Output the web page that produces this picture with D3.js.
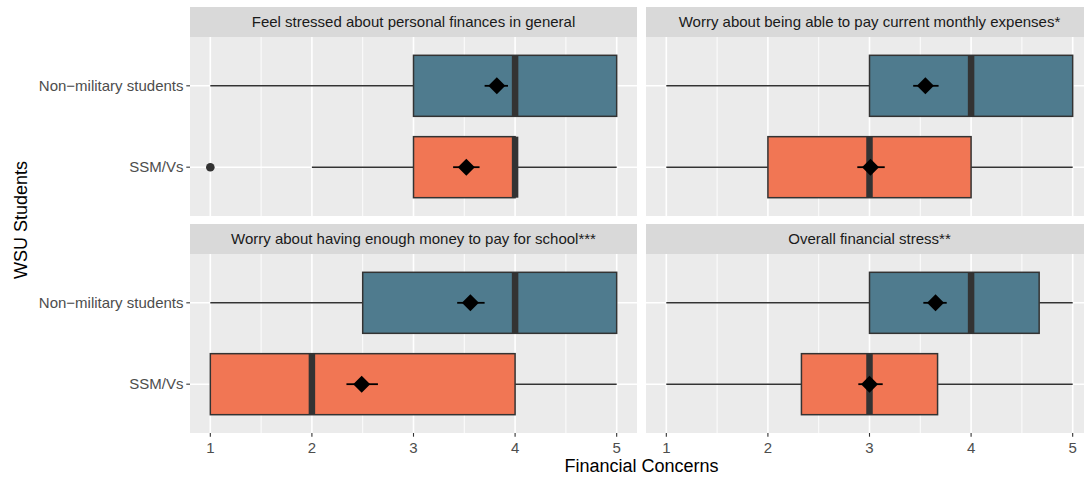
<!DOCTYPE html>
<html>
<head>
<meta charset="utf-8">
<script src="https://cdn.jsdelivr.net/npm/d3@7"></script>
<style>
  html, body { margin: 0; padding: 0; background: #ffffff; }
  svg { display: block; font-family: "Liberation Sans", Arial, Helvetica, sans-serif; }
</style>
</head>
<body>
<svg id="chart" width="1084" height="478"></svg>
<script>
// ---- Data ----
const categories = ["Non\u2212military students", "SSM/Vs"];
const facets = [
  "Feel stressed about personal finances in general",
  "Worry about being able to pay current monthly expenses*",
  "Worry about having enough money to pay for school***",
  "Overall financial stress**"
];
// each entry: [Non-military, SSM/Vs]
const whiskerLow  = [[1, 2], [1, 1], [1, 1], [1, 1]];
const q1          = [[3, 3], [3, 2], [2.5, 1], [3, 2.33]];
const medians     = [[4, 4], [4, 3], [4, 2], [4, 3]];
const q3          = [[5, 4], [5, 4], [5, 4], [4.67, 3.67]];
const whiskerHigh = [[5, 5], [5, 5], [5, 5], [5, 5]];
const outliers    = [[[], [1]], [[], []], [[], []], [[], []]];
const means       = [[3.82, 3.52], [3.55, 3.01], [3.56, 2.49], [3.65, 3.00]];
const ciLow       = [[3.70, 3.39], [3.43, 2.88], [3.43, 2.34], [3.53, 2.89]];
const ciHigh      = [[3.93, 3.65], [3.68, 3.15], [3.70, 2.65], [3.76, 3.13]];
const xTicks      = [1, 2, 3, 4, 5];
const minorTicks  = [1.5, 2.5, 3.5, 4.5];
const fills       = ["#4f7b8e", "#f17654"];

// ---- Layout ----
const svg = d3.select("#chart");
const panelW = 447, stripH = 30, bodyH = 179;
const colX = [190, 646];
const rowY = [7, 224];

const x = d3.scaleLinear().domain([0.8, 5.2]).range([0, panelW]);
// Discrete scale with 0.6 expansion each side
const yBand = d3.scaleLinear().domain([0.4, 2.6]).range([0, bodyH]);
const yPos = c => yBand(categories.indexOf(c) + 1);
const boxHalf = (yBand(1.375) - yBand(1));

facets.forEach((title, fi) => {
  const col = fi % 2, row = Math.floor(fi / 2);
  const g = svg.append("g").attr("transform", `translate(${colX[col]},${rowY[row]})`);

  // strip
  g.append("rect").attr("x", 0).attr("y", 0).attr("width", panelW).attr("height", stripH)
    .attr("fill", "#d9d9d9");
  g.append("text").attr("x", panelW / 2).attr("y", stripH / 2 + 5)
    .attr("text-anchor", "middle").attr("font-size", 15).attr("fill", "#1a1a1a").text(title);

  const p = g.append("g").attr("transform", `translate(0,${stripH})`);
  p.append("rect").attr("width", panelW).attr("height", bodyH).attr("fill", "#ebebeb");

  // grid
  p.selectAll(".minor").data(minorTicks).join("line")
    .attr("x1", d => x(d)).attr("x2", d => x(d)).attr("y1", 0).attr("y2", bodyH)
    .attr("stroke", "#ffffff").attr("stroke-width", 0.9);
  p.selectAll(".major").data(xTicks).join("line")
    .attr("x1", d => x(d)).attr("x2", d => x(d)).attr("y1", 0).attr("y2", bodyH)
    .attr("stroke", "#ffffff").attr("stroke-width", 1.6);
  p.selectAll(".hgrid").data(categories).join("line")
    .attr("x1", 0).attr("x2", panelW).attr("y1", d => yPos(d)).attr("y2", d => yPos(d))
    .attr("stroke", "#ffffff").attr("stroke-width", 1.6);

  categories.forEach((cat, gi) => {
    const cy = yPos(cat);
    // whiskers
    p.append("line").attr("x1", x(whiskerLow[fi][gi])).attr("x2", x(q1[fi][gi]))
      .attr("y1", cy).attr("y2", cy).attr("stroke", "#333333").attr("stroke-width", 1.4);
    p.append("line").attr("x1", x(q3[fi][gi])).attr("x2", x(whiskerHigh[fi][gi]))
      .attr("y1", cy).attr("y2", cy).attr("stroke", "#333333").attr("stroke-width", 1.4);
    // box
    p.append("rect").attr("x", x(q1[fi][gi])).attr("y", cy - boxHalf)
      .attr("width", x(q3[fi][gi]) - x(q1[fi][gi])).attr("height", boxHalf * 2)
      .attr("fill", fills[gi]).attr("stroke", "#333333").attr("stroke-width", 1.5);
    // median
    p.append("line").attr("x1", x(medians[fi][gi])).attr("x2", x(medians[fi][gi]))
      .attr("y1", cy - boxHalf).attr("y2", cy + boxHalf)
      .attr("stroke", "#333333").attr("stroke-width", 6.5);
    // outliers
    p.selectAll(null).data(outliers[fi][gi]).join("circle")
      .attr("cx", d => x(d)).attr("cy", cy).attr("r", 4.3).attr("fill", "#333333");
    // error bar of mean
    p.append("line").attr("x1", x(ciLow[fi][gi])).attr("x2", x(ciHigh[fi][gi]))
      .attr("y1", cy).attr("y2", cy).attr("stroke", "#000000").attr("stroke-width", 1.8);
    // mean diamond
    const mx = x(means[fi][gi]), d = 8.5;
    p.append("path").attr("d", `M${mx},${cy - d}L${mx + d},${cy}L${mx},${cy + d}L${mx - d},${cy}Z`)
      .attr("fill", "#000000");
  });

  // y axis (left column only)
  if (col === 0) {
    categories.forEach(cat => {
      const cy = yPos(cat);
      p.append("line").attr("x1", -3.7).attr("x2", 0).attr("y1", cy).attr("y2", cy)
        .attr("stroke", "#333333").attr("stroke-width", 1.1);
      p.append("text").attr("x", -6.5).attr("y", cy + 5).attr("text-anchor", "end")
        .attr("font-size", 15).attr("fill", "#4d4d4d").text(cat);
    });
  }
  // x axis (bottom row only)
  if (row === 1) {
    xTicks.forEach(t => {
      p.append("line").attr("x1", x(t)).attr("x2", x(t)).attr("y1", bodyH).attr("y2", bodyH + 3.7)
        .attr("stroke", "#333333").attr("stroke-width", 1.1);
      p.append("text").attr("x", x(t)).attr("y", bodyH + 19.5).attr("text-anchor", "middle")
        .attr("font-size", 15).attr("fill", "#4d4d4d").text(t);
    });
  }
});

// axis titles
svg.append("text").attr("x", (colX[0] + colX[1] + panelW) / 2).attr("y", 472)
  .attr("text-anchor", "middle").attr("font-size", 18).attr("fill", "#000000").text("Financial Concerns");
svg.append("text").attr("transform", `translate(27,${(rowY[0] + rowY[1] + stripH + bodyH) / 2}) rotate(-90)`)
  .attr("text-anchor", "middle").attr("font-size", 18).attr("fill", "#000000").text("WSU Students");
</script>
</body>
</html>
